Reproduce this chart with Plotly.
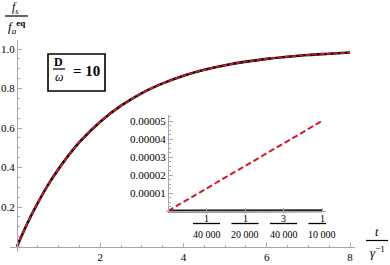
import plotly.graph_objects as go

# ---- data ----
t_main = [0, 0.25, 0.5, 0.75, 1, 1.5, 2, 2.5, 3, 3.5, 4, 4.5, 5, 5.5, 6, 6.5, 7, 7.5, 8]
f_main = [0, 0.118, 0.221, 0.313, 0.393, 0.528, 0.632, 0.713, 0.777, 0.826, 0.865,
          0.895, 0.918, 0.936, 0.950, 0.961, 0.970, 0.976, 0.982]

t_inset = [0, 0.0001]
f_inset_exact = [0, 0.0000002]
f_inset_approx = [0, 0.00005]

main_xticks = [2, 4, 6, 8]
main_xticktext = ["2", "4", "6", "8"]
main_yticks = [0.2, 0.4, 0.6, 0.8, 1.0]
main_yticktext = ["0.2", "0.4", "0.6", "0.8", "1.0"]

inset_xticks = [0.000025, 0.00005, 0.000075, 0.0001]
inset_num = ["1", "1", "3", "1"]
inset_den = ["40 000", "20 000", "40 000", "10 000"]
inset_yticks = [0.00001, 0.00002, 0.00003, 0.00004, 0.00005]
inset_yticktext = ["0.00001", "0.00002", "0.00003", "0.00004", "0.00005"]

W, H = 390, 265
FONT = "Liberation Serif"
AXC = "#a8a8a8"
RED = "#d4182c"


def px(x):
    return x / W


def py(y):
    return (H - y) / H


fig = go.Figure()

# main curves
fig.add_trace(go.Scatter(x=t_main, y=f_main, mode="lines", line_shape="spline",
                         line=dict(color="black", width=2.6), xaxis="x", yaxis="y",
                         hoverinfo="skip"))
fig.add_trace(go.Scatter(x=t_main, y=f_main, mode="lines", line_shape="spline",
                         line=dict(color=RED, width=1.8, dash="5px,2px"), xaxis="x", yaxis="y",
                         hoverinfo="skip"))
# inset curves
fig.add_trace(go.Scatter(x=t_inset, y=f_inset_exact, mode="lines",
                         line=dict(color="#222222", width=3), xaxis="x2", yaxis="y2",
                         hoverinfo="skip"))
fig.add_trace(go.Scatter(x=t_inset, y=f_inset_approx, mode="lines",
                         line=dict(color=RED, width=2, dash="6px,3px"), xaxis="x2", yaxis="y2",
                         hoverinfo="skip"))

tickfont = dict(family=FONT, size=11, color="black")

# main axes: px/unit x = 41.625 with x=0 at 17px ; y: 197.5 px/unit with y=0 at 246.5px
fig.update_layout(
    width=W, height=H, autosize=False,
    margin=dict(l=0, r=0, t=0, b=0),
    paper_bgcolor="white", plot_bgcolor="white",
    showlegend=False,
    xaxis=dict(domain=[px(10), px(355)], range=[(10 - 17) / 41.625, (355 - 17) / 41.625],
               anchor="free", position=py(246.5), showline=True, linecolor=AXC, linewidth=1,
               showgrid=False, zeroline=False, ticks="inside", ticklen=4, tickcolor=AXC,
               tickvals=main_xticks, ticktext=main_xticktext, tickfont=tickfont,
               minor=dict(ticks="inside", ticklen=2, tickcolor=AXC, dtick=0.5, tick0=0,
                          showgrid=False)),
    yaxis=dict(domain=[py(252), py(40)], range=[(246.5 - 252) / 197.5, (246.5 - 40) / 197.5],
               anchor="free", position=px(17), showline=True, linecolor=AXC, linewidth=1,
               showgrid=False, zeroline=False, ticks="inside", ticklen=4, tickcolor=AXC,
               tickvals=main_yticks, ticktext=main_yticktext, tickfont=tickfont,
               minor=dict(ticks="inside", ticklen=2, tickcolor=AXC, dtick=0.05, tick0=0,
                          showgrid=False)),
    # inset: x 1.54e6 px/unit with 0 at 168px ; y 1.8e6 px/unit with 0 at 211px
    xaxis2=dict(domain=[px(166), px(326)], range=[(166 - 168) / 1.54e6, (326 - 168) / 1.54e6],
                anchor="free", position=py(211), showline=True, linecolor=AXC, linewidth=1,
                showgrid=False, zeroline=False, ticks="inside", ticklen=3, tickcolor=AXC,
                tickvals=inset_xticks, showticklabels=False),
    yaxis2=dict(domain=[py(213), py(115)], range=[(211 - 213) / 1.8e6, (211 - 115) / 1.8e6],
                anchor="free", position=px(168), showline=True, linecolor=AXC, linewidth=1,
                showgrid=False, zeroline=False, ticks="inside", ticklen=4, tickcolor=AXC,
                tickvals=inset_yticks, ticktext=inset_yticktext, tickfont=tickfont,
                minor=dict(ticks="inside", ticklen=2, tickcolor=AXC, dtick=0.0000025, tick0=0,
                           showgrid=False)),
)

annotations = []
shapes = []

# inset x fraction tick labels
for v, n, d in zip(inset_xticks, inset_num, inset_den):
    annotations.append(dict(x=v, y=py(218), xref="x2", yref="paper", text=n, showarrow=False,
                            font=dict(family=FONT, size=10, color="black"),
                            xanchor="center", yanchor="middle"))
    annotations.append(dict(x=v, y=py(234), xref="x2", yref="paper", text=d, showarrow=False,
                            font=dict(family=FONT, size=10, color="black"),
                            xanchor="center", yanchor="middle"))
    shapes.append(dict(type="line", xref="x2", yref="paper", x0=v - 8.8e-6, x1=v + 8.8e-6,
                       y0=py(223.5), y1=py(223.5), line=dict(color="black", width=1.3)))

# y-axis title  f_s / f_a^eq
annotations.append(dict(x=px(15), y=py(8), xref="paper", yref="paper",
                        text="<i>f</i><sub><i>s</i></sub>", showarrow=False,
                        font=dict(family=FONT, size=12, color="black"),
                        xanchor="center", yanchor="middle"))
shapes.append(dict(type="line", xref="paper", yref="paper", x0=px(5), x1=px(28),
                   y0=py(16), y1=py(16), line=dict(color="black", width=1.2)))
annotations.append(dict(x=px(16), y=py(27), xref="paper", yref="paper",
                        text="<i>f</i><sub><i>a</i></sub><sup><b>eq</b></sup>", showarrow=False,
                        font=dict(family=FONT, size=13, color="black"),
                        xanchor="center", yanchor="middle"))

# x-axis title  t / γ^-1
annotations.append(dict(x=px(377), y=py(232), xref="paper", yref="paper",
                        text="<i>t</i>", showarrow=False,
                        font=dict(family=FONT, size=12, color="black"),
                        xanchor="center", yanchor="middle"))
shapes.append(dict(type="line", xref="paper", yref="paper", x0=px(366), x1=px(388),
                   y0=py(240.5), y1=py(240.5), line=dict(color="black", width=1.2)))
annotations.append(dict(x=px(377), y=py(252), xref="paper", yref="paper",
                        text="<i>γ</i><sup>−1</sup>", showarrow=False,
                        font=dict(family=FONT, size=13, color="black"),
                        xanchor="center", yanchor="middle"))

# parameter box  D/ω = 10
shapes.append(dict(type="rect", xref="paper", yref="paper", x0=px(48), x1=px(105),
                   y0=py(54), y1=py(91), line=dict(color="black", width=1.6),
                   fillcolor="white"))
annotations.append(dict(x=px(59), y=py(62), xref="paper", yref="paper",
                        text="<b>D</b>", showarrow=False,
                        font=dict(family=FONT, size=12, color="black"),
                        xanchor="center", yanchor="middle"))
shapes.append(dict(type="line", xref="paper", yref="paper", x0=px(53), x1=px(65),
                   y0=py(69), y1=py(69), line=dict(color="black", width=1.2)))
annotations.append(dict(x=px(59), y=py(77), xref="paper", yref="paper",
                        text="<i>ω</i>", showarrow=False,
                        font=dict(family=FONT, size=12, color="black"),
                        xanchor="center", yanchor="middle"))
annotations.append(dict(x=px(86), y=py(71), xref="paper", yref="paper",
                        text="<b>= 10</b>", showarrow=False,
                        font=dict(family=FONT, size=15, color="black"),
                        xanchor="center", yanchor="middle"))

fig.update_layout(annotations=annotations, shapes=shapes)

fig.write_html("out.html", config={"displayModeBar": False},
               post_script="document.body.style.margin='0';")
